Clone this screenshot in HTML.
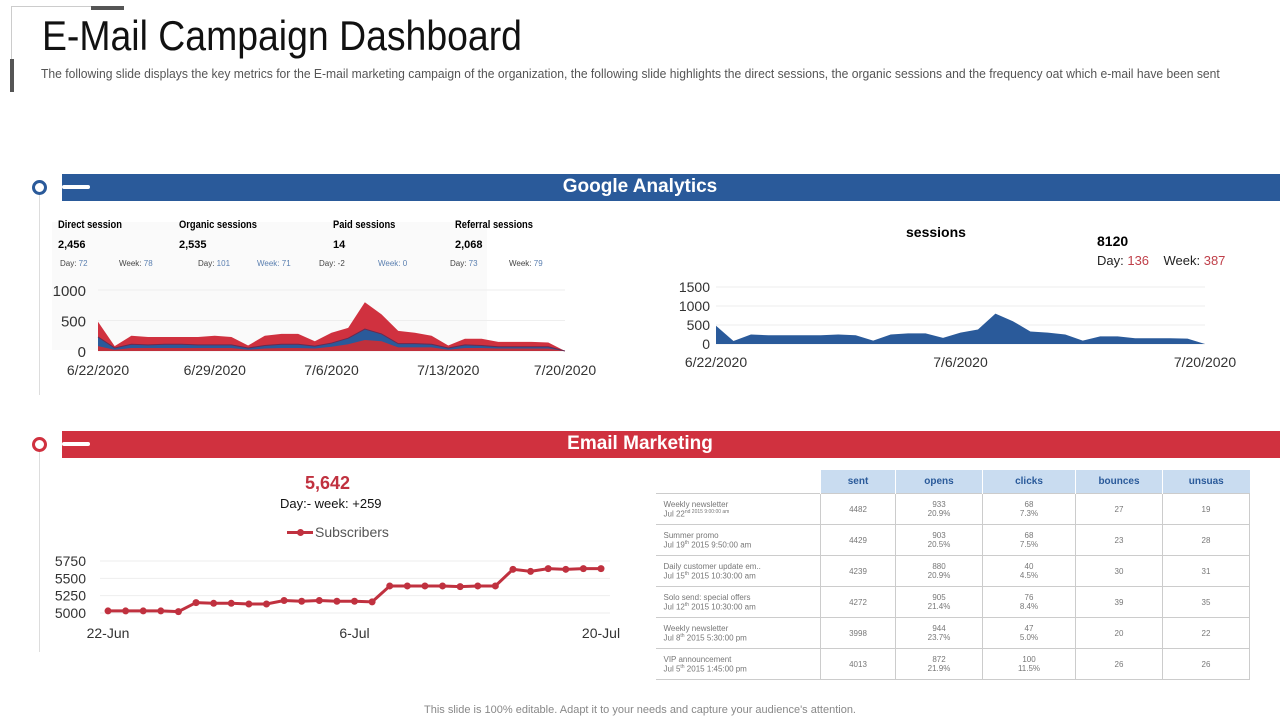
<!DOCTYPE html>
<html><head><meta charset="utf-8"><style>
body{margin:0;width:1280px;height:720px;background:#fff;font-family:"Liberation Sans",sans-serif;position:relative;overflow:hidden}
.abs{position:absolute}
.t{white-space:nowrap}
table{border-collapse:collapse;font-size:8px;color:#777;table-layout:fixed}
td{border:1px solid #ccc;border-left:1px solid #ddd;text-align:center;height:30px;padding:0}
td.l{text-align:left;border-left:none;padding-left:8px}
th{background:#c9dcf0;color:#2a5a9a;font-size:10px;font-weight:bold;height:21px;border-left:1px solid #fff}
</style></head><body>
<svg id="ga" class="abs" style="left:0;top:0" width="1280" height="720"></svg>
<div class="abs" style="left:11px;top:6px;width:80px;height:1px;background:#ccc"></div>
<div class="abs" style="left:11px;top:6px;width:1px;height:55px;background:#ccc"></div>
<div class="abs" style="left:91px;top:6px;width:33px;height:4px;background:#555"></div>
<div class="abs" style="left:10px;top:59px;width:4px;height:33px;background:#555"></div>
<div class="abs t" style="left:42px;top:12px;font-size:42px;color:#111;transform:scaleX(0.89);transform-origin:left">E-Mail Campaign Dashboard</div>
<div class="abs t" style="left:41px;top:67px;font-size:12.5px;color:#555;transform:scaleX(0.97);transform-origin:left">The following slide displays the key metrics for the E-mail marketing campaign of the organization, the following slide highlights the direct sessions, the organic sessions and the frequency oat which e-mail have been  sent</div>

<div class="abs" style="left:39px;top:195px;width:1px;height:200px;background:#ddd"></div>
<div class="abs" style="left:39px;top:452px;width:1px;height:200px;background:#ddd"></div>
<div class="abs" style="left:32px;top:180px;width:9px;height:9px;border:3px solid #2a5a9a;border-radius:50%;background:#fff"></div>
<div class="abs" style="left:62px;top:174px;width:1218px;height:27px;background:#2a5a9a"></div>
<div class="abs" style="left:62px;top:185px;width:28px;height:4px;background:#fff;border-radius:2px"></div>
<div class="abs t" style="left:0;width:1280px;text-align:center;top:176px;font-size:19px;font-weight:bold;color:#fff">Google Analytics</div>

<div class="abs" style="left:32px;top:437px;width:9px;height:9px;border:3px solid #d0313f;border-radius:50%;background:#fff"></div>
<div class="abs" style="left:62px;top:431px;width:1218px;height:27px;background:#d0313f"></div>
<div class="abs" style="left:62px;top:442px;width:28px;height:4px;background:#fff;border-radius:2px"></div>
<div class="abs t" style="left:0;width:1280px;text-align:center;top:433px;font-size:19px;font-weight:bold;color:#fff">Email Marketing</div>

<div class="abs" style="left:58px;top:219px;font-size:11px">
<div class="abs t" style="left:0;top:0;font-weight:bold;transform:scaleX(.85);transform-origin:left">Direct session</div>
<div class="abs t" style="left:121px;top:0;font-weight:bold;transform:scaleX(.85);transform-origin:left">Organic sessions</div>
<div class="abs t" style="left:275px;top:0;font-weight:bold;transform:scaleX(.85);transform-origin:left">Paid sessions</div>
<div class="abs t" style="left:397px;top:0;font-weight:bold;transform:scaleX(.85);transform-origin:left">Referral sessions</div>
<div class="abs t" style="left:0;top:20px;font-weight:bold">2,456</div>
<div class="abs t" style="left:121px;top:20px;font-weight:bold">2,535</div>
<div class="abs t" style="left:275px;top:20px;font-weight:bold">14</div>
<div class="abs t" style="left:397px;top:20px;font-weight:bold">2,068</div>
<div class="abs t" style="left:2px;top:40px;font-size:8px;color:#444;width:500px">Day: <span style="color:#5a7fb0">72</span><span style="position:absolute;left:59px">Week: <span style="color:#5a7fb0">78</span></span><span style="position:absolute;left:138px">Day: <span style="color:#5a7fb0">101</span></span><span style="position:absolute;left:197px;color:#5a7fb0">Week: 71</span><span style="position:absolute;left:259px">Day: -2</span><span style="position:absolute;left:318px;color:#5a7fb0">Week: 0</span><span style="position:absolute;left:390px">Day: <span style="color:#5a7fb0">73</span></span><span style="position:absolute;left:449px">Week: <span style="color:#5a7fb0">79</span></span></div>
</div>

<div class="abs t" style="left:906px;top:224px;font-size:14px;font-weight:bold">sessions</div>
<div class="abs t" style="left:1097px;top:233px;font-size:14px;font-weight:bold">8120</div>
<div class="abs t" style="left:1097px;top:253px;font-size:13px;color:#222">Day: <span style="color:#c0404a">136</span>&nbsp;&nbsp;&nbsp; Week: <span style="color:#c0404a">387</span></div>

<div class="abs t" style="left:305px;top:473px;font-size:18px;font-weight:bold;color:#c0313f">5,642</div>
<div class="abs t" style="left:280px;top:496px;font-size:13px;color:#111">Day:-  week: +259</div>
<div class="abs" style="left:287px;top:531px;width:26px;height:3px;background:#c0313f"></div>
<div class="abs" style="left:297px;top:529px;width:7px;height:7px;border-radius:50%;background:#c0313f"></div>
<div class="abs t" style="left:315px;top:524px;font-size:14px;color:#555">Subscribers</div>

<table class="abs" style="left:655px;top:470px;width:594px">
<colgroup><col style="width:165px"><col style="width:75px"><col style="width:87px"><col style="width:93px"><col style="width:87px"><col style="width:87px"></colgroup>
<tr><th style="background:#fff"></th><th>sent</th><th>opens</th><th>clicks</th><th>bounces</th><th>unsuas</th></tr>
<tr><td class="l">Weekly newsletter<br>Jul 22<sup style="font-size:5px">nd 2015 9:00:00 am</sup></td><td>4482</td><td>933<br>20.9%</td><td>68<br>7.3%</td><td>27</td><td>19</td></tr>
<tr><td class="l">Summer promo<br>Jul 19<sup style="font-size:5px">th</sup> 2015 9:50:00 am</td><td>4429</td><td>903<br>20.5%</td><td>68<br>7.5%</td><td>23</td><td>28</td></tr>
<tr><td class="l">Daily customer  update em..<br>Jul 15<sup style="font-size:5px">th</sup> 2015 10:30:00 am</td><td>4239</td><td>880<br>20.9%</td><td>40<br>4.5%</td><td>30</td><td>31</td></tr>
<tr><td class="l">Solo send: special offers<br>Jul 12<sup style="font-size:5px">th</sup> 2015 10:30:00 am</td><td>4272</td><td>905<br>21.4%</td><td>76<br>8.4%</td><td>39</td><td>35</td></tr>
<tr><td class="l">Weekly newsletter<br>Jul 8<sup style="font-size:5px">th</sup> 2015 5:30:00 pm</td><td>3998</td><td>944<br>23.7%</td><td>47<br>5.0%</td><td>20</td><td>22</td></tr>
<tr><td class="l">VIP announcement<br>Jul 5<sup style="font-size:5px">th</sup> 2015 1:45:00 pm</td><td>4013</td><td>872<br>21.9%</td><td>100<br>11.5%</td><td>26</td><td>26</td></tr>
</table>

<div class="abs t" style="left:0;width:1280px;text-align:center;top:704px;font-size:11px;color:#888">This slide is 100% editable. Adapt it to your needs and capture your audience's attention.</div>

<script>
const totals=[480,80,250,230,230,230,230,250,230,90,250,280,280,160,300,380,800,600,330,300,250,90,200,200,150,150,150,140,0];
const organic=[80,20,50,50,50,50,50,50,50,20,40,50,50,40,70,110,180,160,60,60,60,20,50,50,40,40,40,40,0];
const direct=[150,30,60,50,60,60,50,50,50,30,50,60,60,40,60,100,180,120,60,60,50,30,50,40,30,30,30,30,0];
const subscribers=[5030,5030,5030,5030,5020,5150,5140,5140,5130,5130,5180,5170,5180,5170,5170,5160,5390,5390,5390,5390,5380,5390,5390,5630,5600,5640,5630,5640,5640];
const leftTicks=[0,500,1000];
const rightTicks=[0,500,1000,1500];
const subTicks=[5000,5250,5500,5750];
const leftDates=["6/22/2020","6/29/2020","7/6/2020","7/13/2020","7/20/2020"];
const rightDates=["6/22/2020","7/6/2020","7/20/2020"];
const subDates=["22-Jun","6-Jul","20-Jul"];
const NS="http://www.w3.org/2000/svg";
const svg=document.getElementById('ga');
function el(t,a,txt){const e=document.createElementNS(NS,t);for(const k in a)e.setAttribute(k,a[k]);if(txt!==undefined)e.textContent=txt;svg.appendChild(e);return e;}
function area(xf,yf,top,bot,fill,name){let d="";top.forEach((v,i)=>{d+=(i?"L":"M")+xf(i)+","+yf(v)});for(let i=bot.length-1;i>=0;i--)d+="L"+xf(i)+","+yf(bot[i]);const p=el('path',{d:d+"Z",fill:fill});

}
const n=totals.length;
const lx=i=>98+i*(565-98)/(n-1), ly=v=>351-v*(61/1000);
el('rect',{x:52,y:222,width:435,height:128,fill:'#fafafa'});
leftTicks.forEach(t=>{el('line',{x1:98,x2:565,y1:ly(t),y2:ly(t),stroke:'#eee'});const tx=el('text',{x:86,y:ly(t)+6,'text-anchor':'end','font-size':15,fill:'#333'},t);

});
const zero=totals.map(()=>0), od=organic.map((v,i)=>v+direct[i]);
area(lx,ly,totals,zero,'#d0313f','referral-area');
area(lx,ly,od,zero,'#2a5a9a','direct-area');
area(lx,ly,organic,zero,'#c0303c','organic-area');
el('path',{d:od.map((v,i)=>(i?"L":"M")+lx(i)+","+ly(v)).join(""),fill:'none',stroke:'#6a2a50','stroke-width':1});
leftDates.forEach((d,k)=>{const tx=el('text',{x:lx(k*7),y:375,'text-anchor':'middle','font-size':14,fill:'#333'},d);

});
const rx=i=>716+i*(1205-716)/(n-1), ry=v=>344-v*(57/1500);
rightTicks.forEach(t=>{el('line',{x1:716,x2:1205,y1:ry(t),y2:ry(t),stroke:'#eee'});const tx=el('text',{x:710,y:ry(t)+5,'text-anchor':'end','font-size':14,fill:'#333'},t);

});
area(rx,ry,totals,zero,'#2a5a9a','sessions-area');
rightDates.forEach((d,k)=>{const tx=el('text',{x:rx(k*14),y:367,'text-anchor':'middle','font-size':14,fill:'#333'},d);

});
const m=subscribers.length;
const sx=i=>108+i*(601-108)/(m-1), sy=v=>613-(v-5000)*(52/750);
subTicks.forEach(t=>{el('line',{x1:100,x2:610,y1:sy(t),y2:sy(t),stroke:'#eee'});const tx=el('text',{x:86,y:sy(t)+5,'text-anchor':'end','font-size':14,fill:'#333'},t);

});
const ln=el('path',{d:subscribers.map((v,i)=>(i?"L":"M")+sx(i)+","+sy(v)).join(""),fill:'none',stroke:'#c0313f','stroke-width':3});


subscribers.forEach((v,i)=>{const c=el('circle',{cx:sx(i),cy:sy(v),r:3.5,fill:'#c0313f'});

});
subDates.forEach((d,k)=>{const tx=el('text',{x:sx(k*14),y:638,'text-anchor':'middle','font-size':14,fill:'#333'},d);

});
</script>
</body></html>
